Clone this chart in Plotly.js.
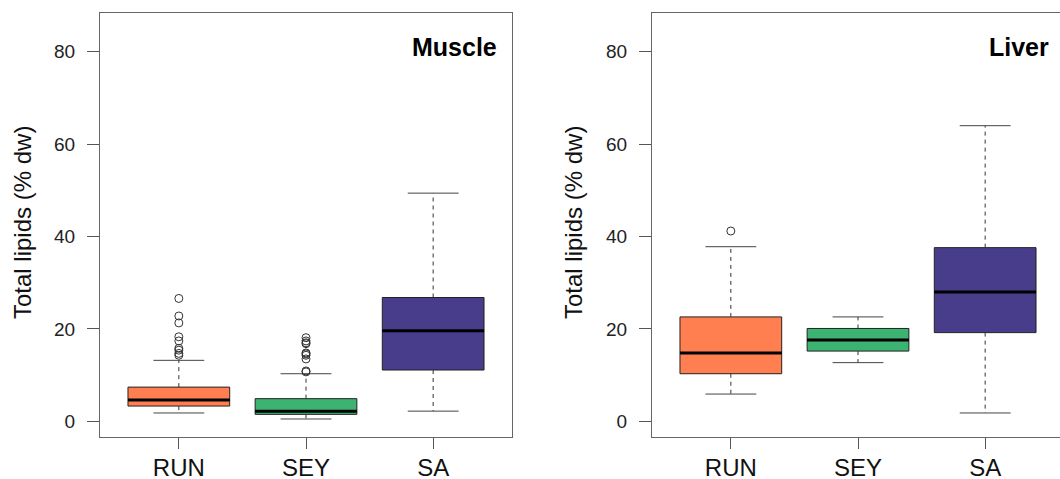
<!DOCTYPE html>
<html>
<head>
<meta charset="utf-8">
<script src="https://cdn.plot.ly/plotly-3.0.1.min.js"></script>
<style>
html,body{margin:0;padding:0;overflow:hidden;background:#fff;}
#chart{width:1064px;height:479px;}
</style>
</head>
<body>
<div id="chart"></div>
<script>
// ---- data ----
const categories = ['RUN', 'SEY', 'SA'];
const colors = ['#FF7F50', '#3CB371', '#483D8B'];

const muscleLo  = [1.8, 0.5, 2.2];
const muscleQ1  = [3.3, 1.5, 11.1];
const muscleMed = [4.6, 2.2, 19.6];
const muscleQ3  = [7.4, 4.9, 26.8];
const muscleHi  = [13.2, 10.3, 49.4];
const muscleOutRUN = [26.6, 22.8, 21.3, 18.3, 17.4, 15.8, 15.4, 14.7, 14.3];
const muscleOutSEY = [18.1, 17.4, 17.0, 16.8, 14.8, 14.6, 14.3, 13.5, 10.9, 10.7];
const muscleOutSA  = [];

const liverLo  = [5.9, 12.7, 1.8];
const liverQ1  = [10.3, 15.2, 19.2];
const liverMed = [14.8, 17.6, 28.0];
const liverQ3  = [22.6, 20.1, 37.6];
const liverHi  = [37.8, 22.6, 64.0];
const liverOutRUN = [41.2];
const liverOutSEY = [];
const liverOutSA  = [];

const panels = [
  {name: 'Muscle', lo: muscleLo, q1: muscleQ1, med: muscleMed, q3: muscleQ3, hi: muscleHi,
   out: [muscleOutRUN, muscleOutSEY, muscleOutSA], xa: 'x', ya: 'y'},
  {name: 'Liver', lo: liverLo, q1: liverQ1, med: liverMed, q3: liverQ3, hi: liverHi,
   out: [liverOutRUN, liverOutSEY, liverOutSA], xa: 'x2', ya: 'y2'}
];

const FONT = 'Liberation Sans, Arial, sans-serif';
const BOXW = 0.8, CAPW = 0.4;
const traces = [];

panels.forEach(p => {
  const wx = [], wy = [], cx = [], cy = [], mx = [], my = [], ox = [], oy = [];
  categories.forEach((c, i) => {
    const pos = i + 1;
    traces.push({
      type: 'box', x: [pos], q1: [p.q1[i]], median: [p.med[i]], q3: [p.q3[i]],
      lowerfence: [p.q1[i]], upperfence: [p.q3[i]],
      width: BOXW, whiskerwidth: 0, boxpoints: false,
      fillcolor: colors[i], line: {color: '#222', width: 1},
      xaxis: p.xa, yaxis: p.ya, showlegend: false, hoverinfo: 'skip'
    });
    wx.push(pos, pos, null, pos, pos, null);
    wy.push(p.q3[i], p.hi[i], null, p.q1[i], p.lo[i], null);
    cx.push(pos - CAPW / 2, pos + CAPW / 2, null, pos - CAPW / 2, pos + CAPW / 2, null);
    cy.push(p.hi[i], p.hi[i], null, p.lo[i], p.lo[i], null);
    mx.push(pos - BOXW / 2, pos + BOXW / 2, null);
    my.push(p.med[i], p.med[i], null);
    p.out[i].forEach(v => { ox.push(pos); oy.push(v); });
  });
  traces.push({type: 'scatter', mode: 'lines', x: wx, y: wy, xaxis: p.xa, yaxis: p.ya,
    line: {color: '#333', width: 1, dash: '4px,4px'}, showlegend: false, hoverinfo: 'skip'});
  traces.push({type: 'scatter', mode: 'lines', x: cx, y: cy, xaxis: p.xa, yaxis: p.ya,
    line: {color: '#444', width: 1}, showlegend: false, hoverinfo: 'skip'});
  traces.push({type: 'scatter', mode: 'lines', x: mx, y: my, xaxis: p.xa, yaxis: p.ya,
    line: {color: '#000', width: 3}, showlegend: false, hoverinfo: 'skip'});
  traces.push({type: 'scatter', mode: 'markers', x: ox, y: oy, xaxis: p.xa, yaxis: p.ya,
    marker: {symbol: 'circle-open', size: 8, color: '#333', line: {width: 1, color: '#333'}},
    showlegend: false, hoverinfo: 'skip'});
});

const W = 1064, H = 479;
function xaxisDef(domain, anchor) {
  return {
    domain: domain, anchor: anchor, range: [0.38, 3.62],
    tickvals: [1, 2, 3], ticktext: categories,
    showline: true, mirror: true, linecolor: '#666', linewidth: 1,
    ticks: 'outside', ticklen: 11, tickcolor: '#555', tickwidth: 1,
    showgrid: false, zeroline: false, ticklabelstandoff: -2,
    tickfont: {family: FONT, size: 24, color: '#111'}
  };
}
function yaxisDef(anchor) {
  return {
    domain: [1 - 437 / H, 1 - 13 / H], anchor: anchor, range: [-3.4, 88.4],
    tickvals: [0, 20, 40, 60, 80],
    showline: true, mirror: true, linecolor: '#666', linewidth: 1,
    ticks: 'outside', ticklen: 12, tickcolor: '#555', tickwidth: 1,
    showgrid: false, zeroline: false, ticklabelstandoff: 8,
    tickfont: {family: FONT, size: 19, color: '#222'}
  };
}

const layout = {
  width: W, height: H,
  margin: {l: 0, r: 0, t: 0, b: 0, pad: 0},
  paper_bgcolor: '#fff', plot_bgcolor: '#fff',
  showlegend: false,
  xaxis: xaxisDef([100 / W, 512 / W], 'y'),
  yaxis: yaxisDef('x'),
  xaxis2: xaxisDef([652 / W, 1], 'y2'),
  yaxis2: yaxisDef('x2'),
  annotations: [
    {text: 'Total lipids (% dw)', xref: 'paper', yref: 'paper', x: 22 / W, y: 1 - 223 / H,
     xanchor: 'center', yanchor: 'middle', textangle: -90, showarrow: false,
     font: {family: FONT, size: 24, color: '#111'}},
    {text: 'Total lipids (% dw)', xref: 'paper', yref: 'paper', x: 573 / W, y: 1 - 223 / H,
     xanchor: 'center', yanchor: 'middle', textangle: -90, showarrow: false,
     font: {family: FONT, size: 24, color: '#111'}},
    {text: '<b>' + panels[0].name + '</b>', xref: 'paper', yref: 'paper', x: 499 / W, y: 1 - 47 / H,
     xanchor: 'right', yanchor: 'middle', showarrow: false,
     font: {family: FONT, size: 25, color: '#000'}},
    {text: '<b>' + panels[1].name + '</b>', xref: 'paper', yref: 'paper', x: 1051 / W, y: 1 - 47 / H,
     xanchor: 'right', yanchor: 'middle', showarrow: false,
     font: {family: FONT, size: 25, color: '#000'}}
  ]
};

Plotly.newPlot('chart', traces, layout, {staticPlot: true, displayModeBar: false});
</script>
</body>
</html>
